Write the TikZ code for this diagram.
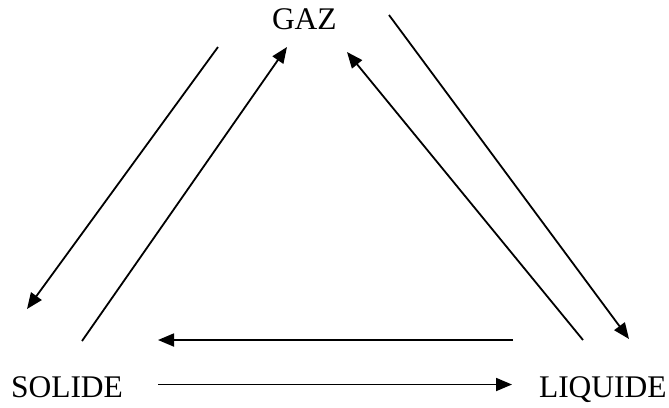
\documentclass[tikz,border=0pt]{standalone}
\usepackage{fontspec}
\setmainfont{Liberation Serif}
\usetikzlibrary{arrows.meta}
\begin{document}
\begin{tikzpicture}[x=1bp,y=-1bp,
  phase/.style={inner sep=0pt,outer sep=0pt,anchor=base west,
    font=\fontsize{31.5bp}{36bp}\selectfont},
  trans/.style={line width=1.8bp,-{Triangle[length=16bp,width=13bp]}}]
\useasboundingbox (0,0) rectangle (669,407);

% phase labels
\node[phase] (gaz) at (272,29) {GAZ};
\node[phase] (solide) at (11,397) {SOLIDE};
\node[phase] (liquide) at (539,397) {LIQUIDE};

% arrow end points
\coordinate (gs1) at (218,47);  \coordinate (gs2) at (27,309);
\coordinate (sg1) at (82,341);  \coordinate (sg2) at (287,47);
\coordinate (lg1) at (583,340); \coordinate (lg2) at (347,52);
\coordinate (gl1) at (389,15);  \coordinate (gl2) at (629,339);
\coordinate (ls1) at (513,340); \coordinate (ls2) at (158,340);
\coordinate (sl1) at (158,384.5); \coordinate (sl2) at (512,384.5);

% transitions
\draw[trans] (gs1) -- (gs2);
\draw[trans] (sg1) -- (sg2);
\draw[trans] (lg1) -- (lg2);
\draw[trans] (gl1) -- (gl2);
\draw[trans] (ls1) -- (ls2);
\draw[trans] (sl1) -- (sl2);
\end{tikzpicture}
\end{document}
